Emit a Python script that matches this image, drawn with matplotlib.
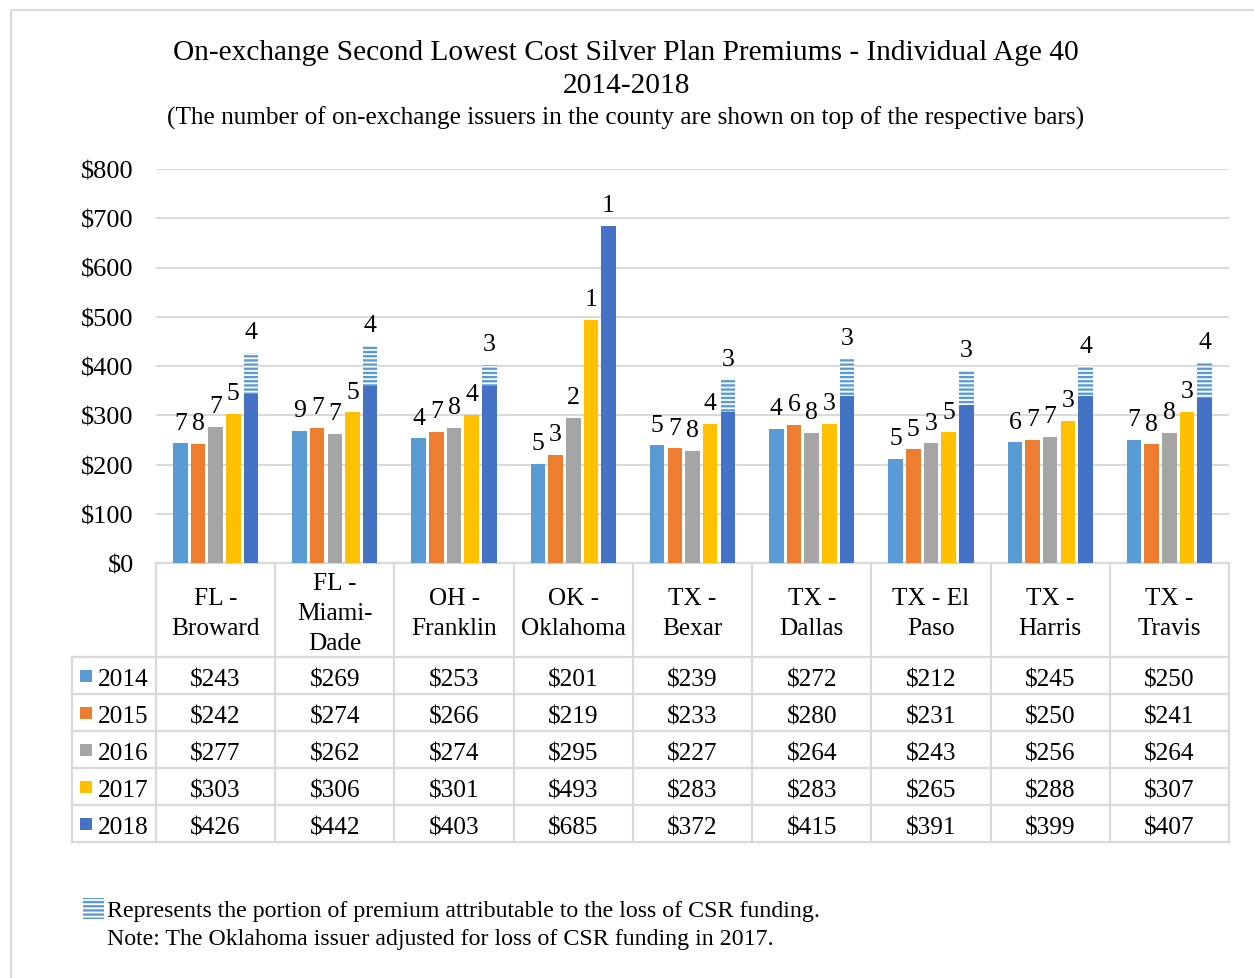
import matplotlib
matplotlib.use("Agg")
import matplotlib.pyplot as plt
import numpy as np

# ---- data ----
counties = ["FL -\nBroward", "FL -\nMiami-\nDade", "OH -\nFranklin", "OK -\nOklahoma",
            "TX -\nBexar", "TX -\nDallas", "TX - El\nPaso", "TX -\nHarris", "TX -\nTravis"]
years = ["2014", "2015", "2016", "2017", "2018"]
prem_2014 = [243, 269, 253, 201, 239, 272, 212, 245, 250]
prem_2015 = [242, 274, 266, 219, 233, 280, 231, 250, 241]
prem_2016 = [277, 262, 274, 295, 227, 264, 243, 256, 264]
prem_2017 = [303, 306, 301, 493, 283, 283, 265, 288, 307]
prem_2018 = [426, 442, 403, 685, 372, 415, 391, 399, 407]
# 2018 premium without the CSR-loss load
prem_2018_base = [343, 359, 359, 685, 307, 340, 321, 340, 336]
issuers_2014 = [7, 9, 4, 5, 5, 4, 5, 6, 7]
issuers_2015 = [8, 7, 7, 3, 7, 6, 5, 7, 8]
issuers_2016 = [7, 7, 8, 2, 8, 8, 3, 7, 8]
issuers_2017 = [5, 5, 4, 1, 4, 3, 5, 3, 3]
issuers_2018 = [4, 4, 3, 1, 3, 3, 3, 4, 4]
yticks = [0, 100, 200, 300, 400, 500, 600, 700, 800]

premiums = [prem_2014, prem_2015, prem_2016, prem_2017, prem_2018]
issuers = [issuers_2014, issuers_2015, issuers_2016, issuers_2017, issuers_2018]
colors = ["#5B9BD5", "#ED7D31", "#A5A5A5", "#FFC000", "#4472C4"]
stripe_color = "#5B9BD5"
grid_color = "#D9D9D9"

plt.rcParams["font.family"] = ["Liberation Serif", "DejaVu Serif"]
plt.rcParams["hatch.linewidth"] = 1.7

W, H = 1254, 979
fig = plt.figure(figsize=(W / 100, H / 100), dpi=100)

# full-figure overlay in pixel coordinates (frame, titles, table, notes)
bg = fig.add_axes([0, 0, 1, 1])
bg.set_xlim(0, W)
bg.set_ylim(H, 0)
bg.axis("off")

# outer chart frame
bg.plot([11, 11, W + 5], [H + 5, 11, 11], color=grid_color, lw=1.5)

# titles
bg.text(626, 53, "On-exchange Second Lowest Cost Silver Plan Premiums - Individual Age 40",
        ha="center", va="center", fontsize=21.2)
bg.text(626, 86, "2014-2018", ha="center", va="center", fontsize=21.2)
bg.text(626, 118, "(The number of on-exchange issuers in the county are shown on top of the respective bars)",
        ha="center", va="center", fontsize=18.2)

# plot area
x0, x1, y_top, y_bot = 156, 1229, 170, 564
ax = fig.add_axes([x0 / W, (H - y_bot) / H, (x1 - x0) / W, (y_bot - y_top) / H])
ax.set_xlim(0, len(counties))
ax.set_ylim(0, 800)
ax.set_yticks(yticks)
ax.set_yticklabels([f"${v}" for v in yticks], fontsize=19)
ax.tick_params(axis="y", length=0, pad=16)
ax.set_xticks([])
for s in ax.spines.values():
    s.set_visible(False)
ax.yaxis.grid(True, color=grid_color, lw=1.4)
ax.set_axisbelow(True)
ax.patch.set_alpha(0)

n = len(counties)
centers = np.arange(n) + 0.5
slot = 0.148
bw = 0.122
for k in range(5):
    xs = centers + (k - 2) * slot
    if k < 4:
        ax.bar(xs, premiums[k], width=bw, color=colors[k], zorder=3)
        tops = premiums[k]
    else:
        ax.bar(xs, prem_2018_base, width=bw, color=colors[k], zorder=3)
        extra = [t - b for t, b in zip(prem_2018, prem_2018_base)]
        ax.bar(xs, extra, bottom=prem_2018_base, width=bw, facecolor="white",
               edgecolor=stripe_color, hatch="----", linewidth=0, zorder=3)
        tops = prem_2018
    for xi, t, c in zip(xs, tops, issuers[k]):
        ax.annotate(str(c), (xi, t), xytext=(0, 7), textcoords="offset points",
                    ha="center", va="bottom", fontsize=18.5)

# ---- data table ----
col_w = (x1 - x0) / n
hdr_top, hdr_bot = 564, 658
row_h = 37
tbl_bot = hdr_bot + row_h * 5
leg_left = 72
lc = grid_color
lw_t = 1.6
# horizontal lines
bg.plot([x0, x1], [hdr_top, hdr_top], color=lc, lw=lw_t, zorder=1)
for r in range(6):
    y = hdr_bot + r * row_h
    bg.plot([leg_left, x1], [y, y], color=lc, lw=lw_t, zorder=1)
# vertical lines
for i in range(n + 1):
    xv = x0 + i * col_w
    bg.plot([xv, xv], [hdr_top, tbl_bot], color=lc, lw=lw_t, zorder=1)
bg.plot([leg_left, leg_left], [hdr_bot, tbl_bot], color=lc, lw=lw_t, zorder=1)

for i, name in enumerate(counties):
    cx = x0 + (i + 0.5) * col_w
    bg.text(cx, (hdr_top + hdr_bot) / 2 + 3, name, ha="center", va="center",
            fontsize=18.2, linespacing=1.45)
    for r in range(5):
        cy = hdr_bot + (r + 0.5) * row_h
        bg.text(cx, cy + 4, f"${premiums[r][i]}", ha="center", va="center", fontsize=18.2)

for r, yr in enumerate(years):
    cy = hdr_bot + (r + 0.5) * row_h
    bg.add_patch(plt.Rectangle((80, cy - 6), 12, 12, facecolor=colors[r], edgecolor="none"))
    bg.text(98, cy + 4, yr, ha="left", va="center", fontsize=18.2)

# ---- notes ----
bg.add_patch(plt.Rectangle((83, 899), 21, 21, facecolor="white", edgecolor=stripe_color,
                           hatch="----", linewidth=0))
bg.text(107, 912, "Represents the portion of premium attributable to the loss of CSR funding.",
        ha="left", va="center", fontsize=17.2)
bg.text(107, 940, "Note: The Oklahoma issuer adjusted for loss of CSR funding in 2017.",
        ha="left", va="center", fontsize=17.2)

fig.savefig("out.png", dpi=100)
